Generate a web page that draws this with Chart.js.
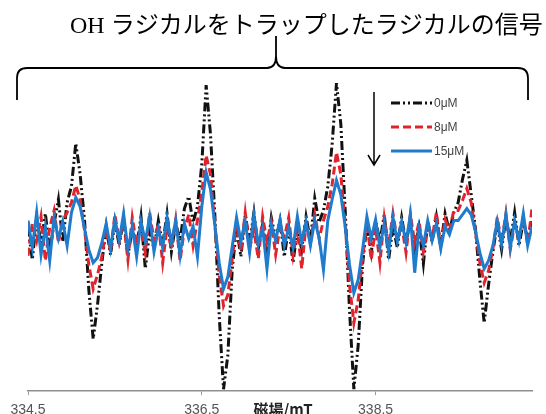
<!DOCTYPE html>
<html lang="ja">
<head>
<meta charset="utf-8">
<title>ESR spectrum</title>
<script src="https://cdn.jsdelivr.net/npm/chart.js@4.4.1/dist/chart.umd.min.js"></script>
<style>
  html, body { margin: 0; padding: 0; background: #fff; overflow: hidden; }
  #wrap { width: 546px; height: 426px; }
</style>
</head>
<body>
<div id="wrap"><canvas id="esr-chart" width="546" height="426"></canvas></div>
<script>
// =========================
// DATA
// =========================

const TITLE_TEXT = "OH ラジカルをトラップしたラジカルの信号";
const AXIS_TITLE = "磁場/mT";
const xTickValues = [334.5, 336.5, 338.5];
const seriesLabels = ["0μM", "8μM", "15μM"];

// magnetic field, mT
const fieldMT = [
  334.5, 334.55, 334.6, 334.65, 334.7, 334.75, 334.8, 334.85, 334.9, 334.95,
  335.0, 335.05, 335.1, 335.15, 335.2, 335.25, 335.3, 335.35, 335.4, 335.45,
  335.5, 335.55, 335.6, 335.65, 335.7, 335.75, 335.8, 335.85, 335.9, 335.95,
  336.0, 336.05, 336.1, 336.15, 336.2, 336.25, 336.3, 336.35, 336.4, 336.45,
  336.5, 336.55, 336.6, 336.65, 336.7, 336.75, 336.8, 336.85, 336.9, 336.95,
  337.0, 337.05, 337.1, 337.15, 337.2, 337.25, 337.3, 337.35, 337.4, 337.45,
  337.5, 337.55, 337.6, 337.65, 337.7, 337.75, 337.8, 337.85, 337.9, 337.95,
  338.0, 338.05, 338.1, 338.15, 338.2, 338.25, 338.3, 338.35, 338.4, 338.45,
  338.5, 338.55, 338.6, 338.65, 338.7, 338.75, 338.8, 338.85, 338.9, 338.95,
  339.0, 339.05, 339.1, 339.15, 339.2, 339.25, 339.3, 339.35, 339.4, 339.45,
  339.5, 339.55, 339.6, 339.65, 339.7, 339.75, 339.8, 339.85, 339.9, 339.95,
  340.0, 340.05, 340.1, 340.15, 340.2, 340.25, 340.3
];

const signal0uM = [
  0.7, -2.5, 1.7, -0.8, 2.1, -1.7, 1.1, 3.5, -0.7, 3.2,
  4.8, 9.1, 6.0, 1.5, -5.5, -10.4, -7.0, -2.8, 0.8, -2.0,
  1.3, -1.1, 1.7, -2.1, 0.6, -1.3, 1.8, -3.4, 0.3, -1.4,
  1.4, -1.0, 2.1, -1.7, 1.1, -0.6, 2.6, 3.8, 1.2, 2.8,
  7.0, 14.9, 10.0, 2.0, -8.0, -15.4, -12.0, -3.5, 0.7, -2.2,
  2.0, -0.8, 2.2, -1.4, 1.0, -2.0, 1.7, -0.4, 1.4, -2.2,
  0.8, -2.8, 0.6, -1.5, 1.8, -0.6, 3.6, 1.2, 2.4, 4.8,
  9.0, 15.1, 11.0, 2.5, -7.5, -15.4, -11.0, -3.0, 1.1, -1.8,
  1.4, -0.7, 2.0, -2.5, 0.8, -1.3, 1.7, -0.8, 1.5, -1.4,
  0.7, -2.9, 1.3, -0.7, 1.8, -1.1, 2.1, 0.3, 2.2, 3.2,
  5.5, 7.4, 4.0, 0.5, -4.5, -8.8, -5.0, -1.7, 1.1, -1.5,
  1.7, -0.7, 2.2, -1.1, 1.3, -0.4, 1.4
];

const signal8uM = [
  -2.1, 1.1, -0.6, 1.8, -2.6, 0.7, 2.4, -0.8, 1.4, 2.2,
  3.2, 4.9, 3.5, 0.5, -3.0, -5.4, -4.0, -2.2, 0.6, -1.7,
  2.0, -0.7, 1.3, -2.5, 1.7, -1.0, 0.8, -1.8, 2.2, -0.6,
  1.1, -2.8, 0.7, -1.4, 1.5, -2.6, 0.6, 2.0, -1.1, 1.4,
  4.2, 7.9, 6.0, 1.0, -4.0, -7.1, -6.0, -2.4, 1.1, -1.7,
  2.2, -1.3, 0.4, -2.4, 1.8, -0.7, 1.3, -2.0, 0.8, -0.3,
  1.7, -2.1, 0.4, -3.4, 1.1, -0.8, 2.0, -0.4, 1.4, 2.8,
  5.0, 8.2, 6.0, 1.0, -5.0, -8.8, -6.5, -2.4, 1.3, -2.5,
  0.7, -2.8, 1.7, -1.1, 2.1, -0.6, 1.0, -1.8, 2.0, -0.8,
  1.3, -1.7, 0.8, -0.4, 2.2, -1.3, 1.5, 0.4, 2.4, 2.4,
  3.4, 4.6, 3.2, 0.2, -2.8, -4.8, -3.6, -1.4, 1.7, -0.8,
  2.1, -1.5, 1.0, -0.3, 1.8, -1.0, 2.6
];

const signal15uM = [
  1.4, -1.3, 2.2, -2.0, 0.8, -2.6, 1.7, -0.4, 1.3, -1.1,
  2.2, 3.7, 2.8, 0.6, -1.5, -2.8, -2.3, -0.8, 1.1, -1.4,
  1.5, -0.6, 2.1, -1.5, 0.8, -2.2, 1.3, -0.7, 1.8, -1.7,
  0.6, -1.3, 1.7, -0.8, 1.4, -2.1, 1.1, -0.4, 0.8, -2.2,
  2.8, 6.2, 4.5, 1.0, -2.8, -5.4, -4.2, -1.2, 1.7, -0.7,
  1.3, -1.8, 2.0, -1.0, 0.7, -3.4, 1.0, -0.6, 1.5, -1.1,
  0.7, -1.3, 1.8, -0.8, 1.3, -1.1, 1.4, -0.3, -3.5, 1.4,
  3.5, 5.4, 4.0, 0.8, -3.0, -5.8, -4.5, -1.5, 1.8, -0.4,
  1.5, -1.3, 1.1, -1.7, 1.7, -0.7, 1.3, -0.8, 2.0, -3.8,
  0.7, -1.1, 1.4, -0.6, 1.1, -1.4, 0.8, 0.0, 1.4, 1.4,
  2.0, 2.6, 2.0, 0.3, -1.8, -3.4, -2.6, -1.1, 1.3, -1.0,
  2.0, -1.3, 1.4, -0.6, 2.1, -1.1, 0.8
];

// =========================
// DECORATION (title, brace, arrow, legend, axis title)
// =========================

const decorPlugin = {
  id: "decor",
  afterDraw(chart) {
    const ctx = chart.ctx;
    ctx.save();

    // title
    ctx.fillStyle = "#000";
    ctx.textAlign = "left";
    ctx.textBaseline = "middle";
    ctx.font = '24px "Liberation Serif", "Noto Sans CJK JP", serif';
    ctx.fillText(TITLE_TEXT, 70, 27);

    // curly brace under the title
    ctx.strokeStyle = "#000";
    ctx.lineWidth = 1.8;
    ctx.setLineDash([]);
    ctx.beginPath();
    ctx.moveTo(17, 100);
    ctx.lineTo(17, 78);
    ctx.quadraticCurveTo(17, 68, 27, 68);
    ctx.lineTo(267, 68);
    ctx.quadraticCurveTo(276, 68, 276, 56);
    ctx.lineTo(276, 36);
    ctx.moveTo(276, 56);
    ctx.quadraticCurveTo(276, 68, 285, 68);
    ctx.lineTo(518, 68);
    ctx.quadraticCurveTo(528, 68, 528, 78);
    ctx.lineTo(528, 100);
    ctx.stroke();

    // arrow (signal decreasing)
    ctx.lineWidth = 1.5;
    ctx.beginPath();
    ctx.moveTo(374, 92);
    ctx.lineTo(374, 164);
    ctx.moveTo(368, 155);
    ctx.lineTo(374, 165);
    ctx.lineTo(380, 155);
    ctx.stroke();

    // legend
    const rowsY = [103, 127, 151];
    ctx.font = '12px "Liberation Sans", sans-serif';
    ctx.fillStyle = "#444";
    chart.data.datasets.forEach((ds, i) => {
      ctx.strokeStyle = ds.borderColor;
      ctx.lineWidth = 3;
      ctx.setLineDash(ds.borderDash || []);
      ctx.beginPath();
      ctx.moveTo(391, rowsY[i]);
      ctx.lineTo(432, rowsY[i]);
      ctx.stroke();
      ctx.fillText(ds.label, 434, rowsY[i] + 1);
    });
    ctx.setLineDash([]);

    // x axis title, sits on the tick label row
    ctx.fillStyle = "#222";
    ctx.textAlign = "center";
    ctx.font = 'bold 15px "Noto Sans CJK JP", sans-serif';
    ctx.fillText(AXIS_TITLE, 283, 409);

    ctx.restore();
  },
};

// =========================
// CHART
// =========================

const ctx = document.getElementById("esr-chart").getContext("2d");

new Chart(ctx, {
  type: "line",
  data: {
    labels: fieldMT,
    datasets: [
      {
        label: seriesLabels[0],
        data: signal0uM,
        borderColor: "#111",
        borderDash: [9, 3, 2, 3, 2, 3],
        borderWidth: 3,
        pointRadius: 0,
        order: 3,
      },
      {
        label: seriesLabels[1],
        data: signal8uM,
        borderColor: "#e2232b",
        borderDash: [8, 4],
        borderWidth: 3,
        pointRadius: 0,
        order: 2,
      },
      {
        label: seriesLabels[2],
        data: signal15uM,
        borderColor: "#1f7bcc",
        borderWidth: 3,
        pointRadius: 0,
        order: 1,
      },
    ],
  },
  options: {
    responsive: false,
    animation: false,
    devicePixelRatio: 1,
    layout: { padding: { left: 28, right: 14, top: 74, bottom: 0 } },
    plugins: {
      legend: { display: false },
      tooltip: { enabled: false },
    },
    scales: {
      x: {
        type: "linear",
        min: 334.5,
        max: 340.3,
        afterBuildTicks: (axis) => {
          axis.ticks = xTickValues.map((v) => ({ value: v }));
        },
        ticks: {
          autoSkip: false,
          maxRotation: 0,
          padding: 7,
          color: "#555",
          font: { family: "Liberation Sans", size: 14 },
          callback: (v) => v.toFixed(1),
        },
        grid: {
          drawOnChartArea: false,
          tickLength: 4,
          color: "#999",
        },
        border: { display: true, color: "#8f8f8f", width: 1.5 },
      },
      y: {
        display: false,
        min: -15.6,
        max: 16,
      },
    },
  },
  plugins: [decorPlugin],
});
</script>
</body>
</html>
